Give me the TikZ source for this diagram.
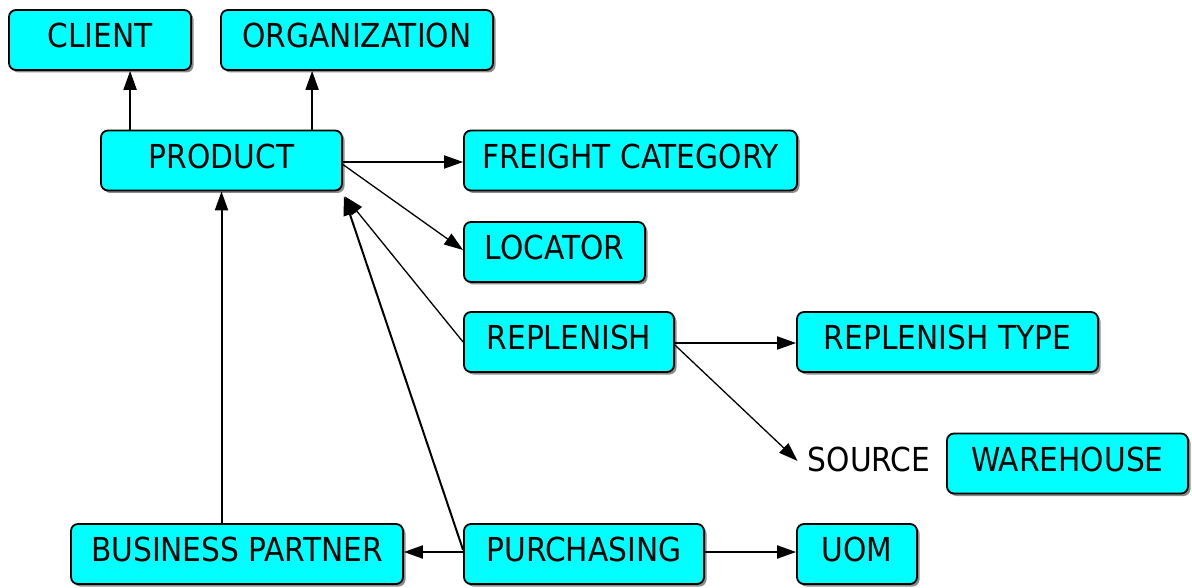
\documentclass[tikz,border=0pt]{standalone}
\usepackage{fontspec}
\setmainfont{DejaVu Sans Condensed}
\usetikzlibrary{arrows.meta,shadows}
\definecolor{boxfill}{RGB}{0,255,255}
\tikzset{
  entity/.style={draw=black, line width=1.8pt, fill=boxfill, rounded corners=7pt,
    inner sep=0pt, minimum height=60pt, text depth=9pt,
    font=\fontsize{33}{38}\selectfont,
    drop shadow={shadow xshift=2.5pt, shadow yshift=-2.5pt, fill=black!45, opacity=1}},
  plain/.style={inner sep=0pt, font=\fontsize{33}{38}\selectfont},
  link/.style={line width=2pt, -{Triangle[length=19pt,width=13pt]}},
  thinlink/.style={line width=1.3pt, -{Triangle[length=19pt,width=13pt]}}
}
\begin{document}
\begin{tikzpicture}[x=1pt, y=-1pt]
  \useasboundingbox (0,0) rectangle (1192,588);

  % entities
  \node[entity, minimum width=182pt] (client)   at (100,40)   {CLIENT};
  \node[entity, minimum width=272pt] (org)      at (357,40)   {ORGANIZATION};
  \node[entity, minimum width=241pt] (product)  at (221.5,160.5) {PRODUCT};
  \node[entity, minimum width=333pt] (freight)  at (630.5,160.5) {FREIGHT CATEGORY};
  \node[entity, minimum width=181pt] (locator)  at (554.5,252)  {LOCATOR};
  \node[entity, minimum width=210pt] (replen)   at (569,342)    {REPLENISH};
  \node[entity, minimum width=301pt] (reptype)  at (947.5,342)  {REPLENISH TYPE};
  \node[plain] (source) at (869,459) {SOURCE};
  \node[entity, minimum width=241pt] (warehouse) at (1067.5,463.5) {WAREHOUSE};
  \node[entity, minimum width=332pt] (bpartner) at (237,554)    {BUSINESS PARTNER};
  \node[entity, minimum width=240pt] (purch)    at (584,554)    {PURCHASING};
  \node[entity, minimum width=120pt] (uom)      at (857,554)    {UOM};

  % references
  \draw[link] ([xshift=30pt]product.north west) -- ([xshift=30pt]product.north west |- client.south);
  \draw[link] ([xshift=212pt]product.north west) -- ([xshift=212pt]product.north west |- org.south);
  \draw[link] ([yshift=-1.5pt]product.east) -- ([yshift=-1.5pt]product.east -| freight.west);
  \draw[thinlink] ([yshift=-4pt]product.east) -- ([yshift=2pt]locator.west);
  \draw[thinlink] (replen.west) -- ([xshift=2pt,yshift=-5pt]product.south east);
  \draw[link] ([yshift=4pt]purch.west) -- ([xshift=1pt,yshift=-5pt]product.south east);
  \draw[link] (bpartner.north -| product.south) -- (product.south);
  \draw[link] ([yshift=2pt]purch.west) -- ([yshift=2pt]bpartner.east);
  \draw[link] ([yshift=2pt]purch.east) -- ([yshift=2pt]uom.west);
  \draw[link] ([yshift=-1pt]replen.east) -- ([yshift=-1pt]reptype.west);
  \draw[thinlink] ([yshift=-3pt]replen.east) -- ([xshift=-10pt,yshift=-2pt]source.west);
\end{tikzpicture}
\end{document}
